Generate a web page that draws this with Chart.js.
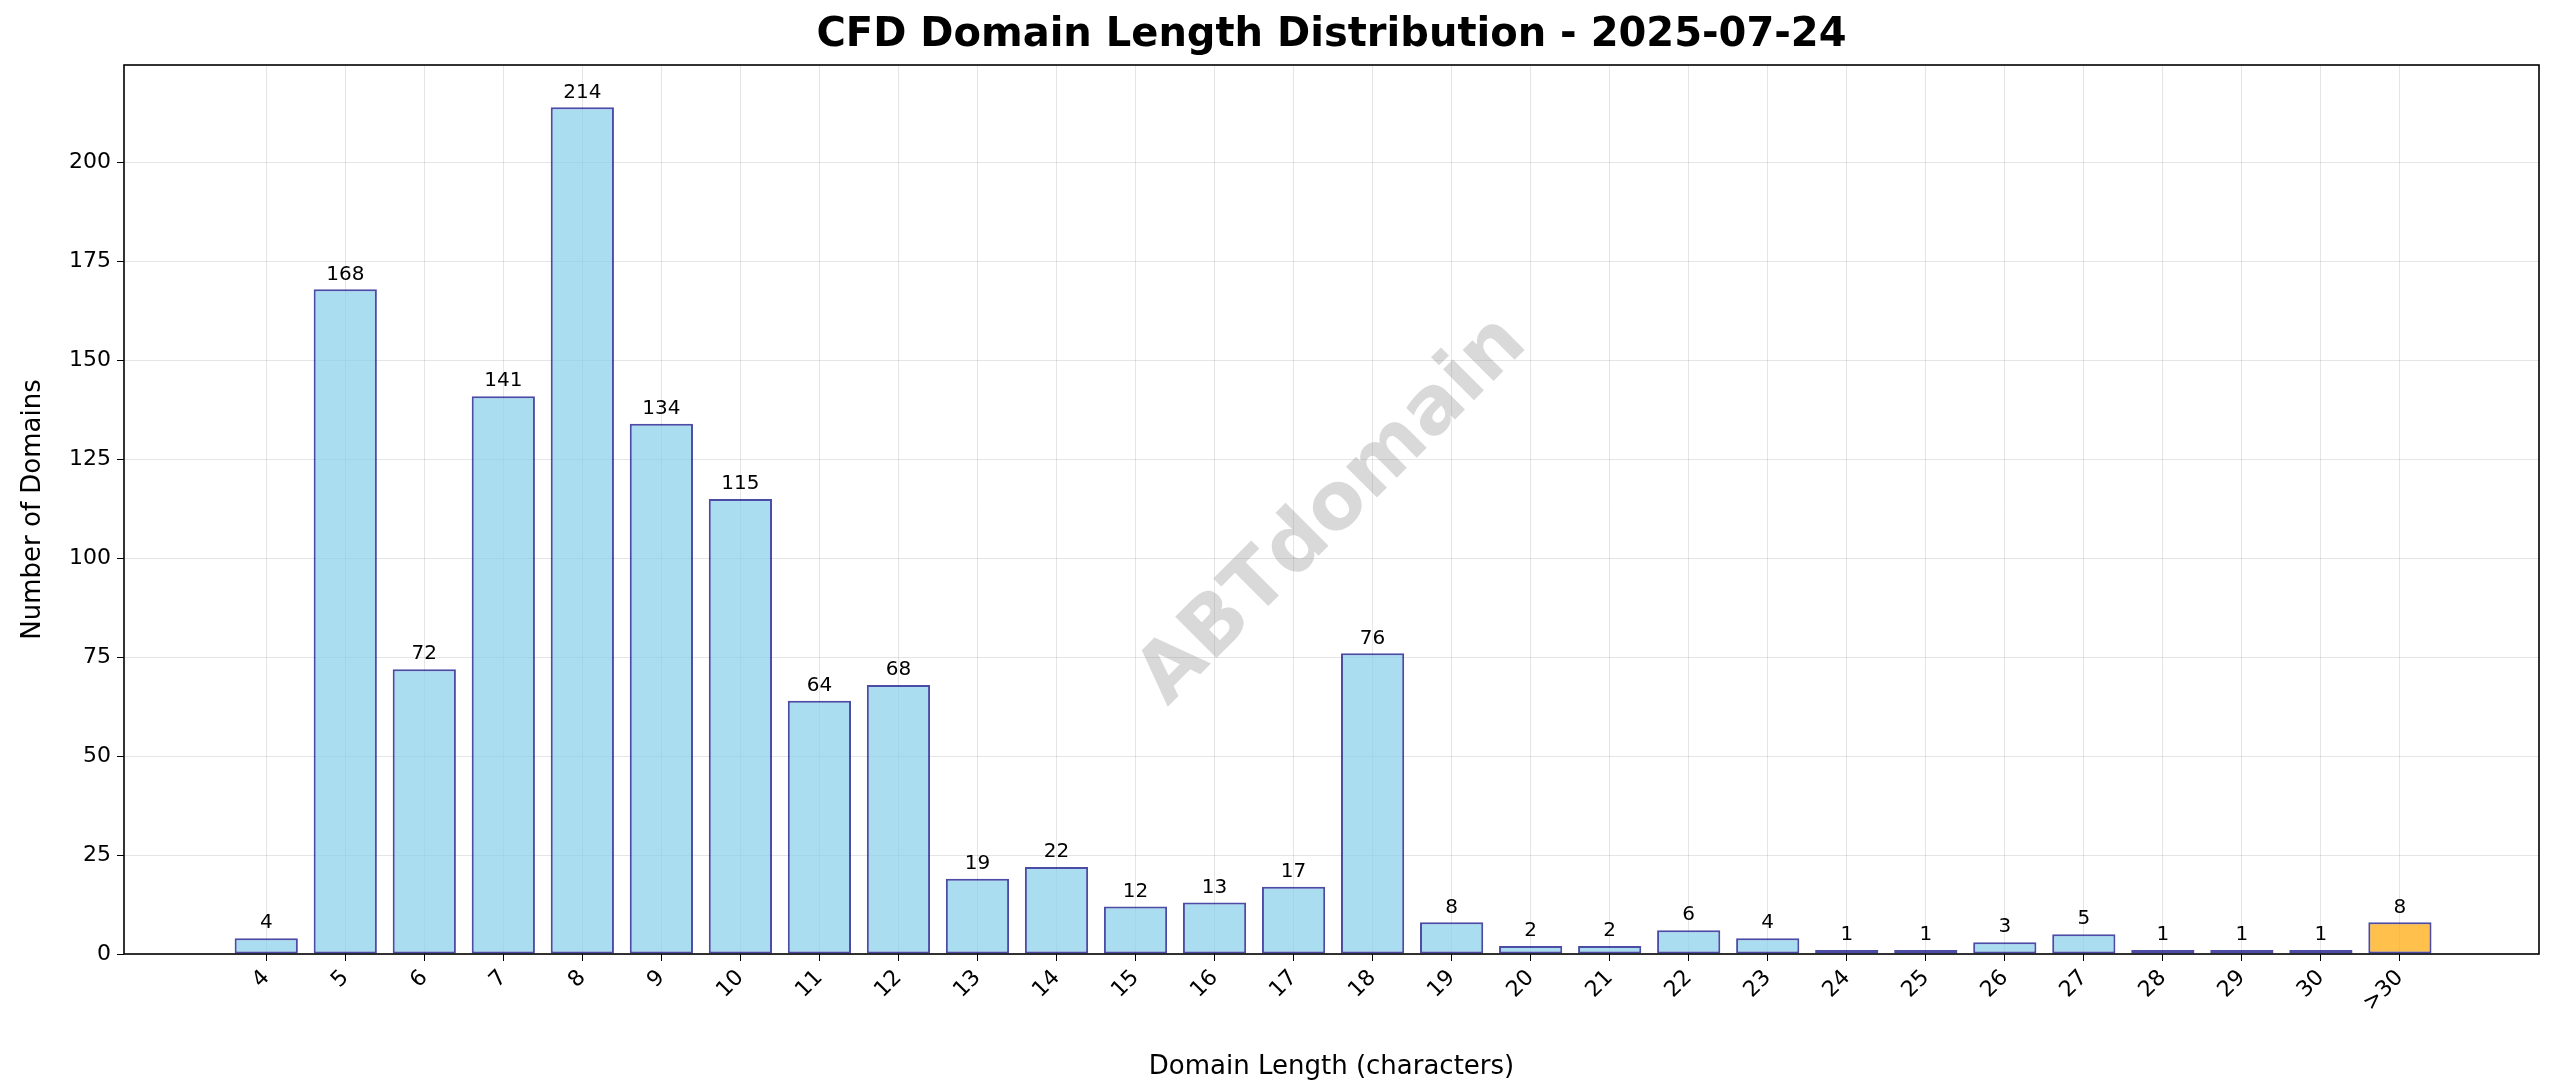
<!DOCTYPE html>
<html>
<head>
<meta charset="utf-8">
<script src="https://cdn.jsdelivr.net/npm/chart.js@4"></script>
<style>
  html, body { margin: 0; padding: 0; background: #fff; }
  #wrap { width: 2560px; height: 1087px; }
</style>
</head>
<body>
<div id="wrap"><canvas id="grafico"></canvas></div>
<script>
// datos
const categories = ['4','5','6','7','8','9','10','11','12','13','14','15','16','17','18','19','20','21','22','23','24','25','26','27','28','29','30','>30'];
const counts = [4,168,72,141,214,134,115,64,68,19,22,12,13,17,76,8,2,2,6,4,1,1,3,5,1,1,1,8];
const yTicks = [0,25,50,75,100,125,150,175,200];

const FONT = 'DejaVu Sans';

const barFill = categories.map(c => c === '>30' ? 'rgba(255,165,0,0.7)' : 'rgba(135,206,235,0.7)');
const barEdge = categories.map(c => 'rgba(0,0,128,0.7)');

// titulo, marca de agua, etiquetas y marco
const extras = {
  id: 'extras',
  beforeDatasetsDraw(chart) {
    const { ctx, chartArea: a } = chart;
    ctx.save();
    ctx.translate((a.left + a.right) / 2 + 2, (a.top + a.bottom) / 2 + 2);
    ctx.rotate(-Math.PI / 4);
    ctx.font = 'bold 80px ' + FONT;
    ctx.fillStyle = 'rgba(128,128,128,0.3)';
    ctx.textAlign = 'center';
    ctx.textBaseline = 'middle';
    ctx.fillText('ABTdomain', 0, 0);
    ctx.restore();
  },
  afterDraw(chart) {
    const { ctx, chartArea: a } = chart;
    ctx.save();
    ctx.font = 'bold 40px ' + FONT;
    ctx.fillStyle = '#000';
    ctx.textAlign = 'center';
    ctx.textBaseline = 'middle';
    ctx.fillText('CFD Domain Length Distribution - 2025-07-24', (a.left + a.right) / 2, 36);

    ctx.font = '20px ' + FONT;
    ctx.textBaseline = 'bottom';
    const meta = chart.getDatasetMeta(0);
    meta.data.forEach((bar, i) => {
      ctx.fillText(String(counts[i]), bar.x, bar.y - 5);
    });

    ctx.strokeStyle = '#000';
    ctx.lineWidth = 1.6;
    ctx.strokeRect(a.left, a.top, a.right - a.left, a.bottom - a.top);
    ctx.restore();
  }
};

const ctx = document.getElementById('grafico').getContext('2d');
new Chart(ctx, {
  type: 'bar',
  data: {
    datasets: [{
      data: counts.map((v, i) => ({ x: i, y: v })),
      backgroundColor: barFill,
      borderColor: barEdge,
      borderWidth: 2,
      borderSkipped: false,
      barPercentage: 0.8,
      categoryPercentage: 1
    }]
  },
  plugins: [extras],
  options: {
    responsive: true,
    maintainAspectRatio: false,
    devicePixelRatio: 1,
    animation: false,
    layout: { padding: { top: 65, right: 21, left: 0, bottom: 0 } },
    plugins: { legend: { display: false }, tooltip: { enabled: false }, title: { display: false } },
    scales: {
      x: {
        type: 'linear',
        min: -1.8,
        max: 28.76,
        offset: false,
        afterBuildTicks(axis) {
          axis.ticks = categories.map((c, i) => ({ value: i }));
        },
        afterFit(axis) { axis.height = 133; },
        ticks: {
          autoSkip: false,
          maxRotation: 45,
          minRotation: 45,
          color: '#000',
          font: { family: FONT, size: 22 },
          padding: 4,
          callback: (v) => categories[v]
        },
        grid: { offset: false, color: 'rgba(0,0,0,0.1)', drawTicks: true, tickLength: 7, tickColor: '#000' },
        border: { display: false },
        title: { display: true, text: 'Domain Length (characters)', color: '#000', font: { family: FONT, size: 26 }, padding: { top: 6 } }
      },
      y: {
        min: 0,
        max: 224.7,
        afterBuildTicks(axis) {
          axis.ticks = yTicks.map(v => ({ value: v }));
        },
        afterFit(axis) { axis.width = 124; },
        ticks: { color: '#000', font: { family: FONT, size: 22 }, padding: 6 },
        grid: { color: 'rgba(0,0,0,0.1)', tickLength: 7, tickColor: '#000' },
        border: { display: false },
        title: { display: true, text: 'Number of Domains', color: '#000', font: { family: FONT, size: 26 }, padding: { top: 18, bottom: 10 } }
      }
    }
  }
});
</script>
</body>
</html>
